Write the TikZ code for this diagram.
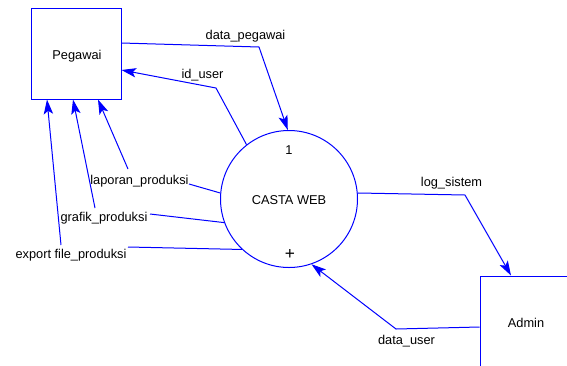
\documentclass[tikz,border=0pt]{standalone}
\usepackage{fontspec}
\setmainfont{Liberation Sans}
\usetikzlibrary{arrows.meta}
\begin{document}
\begin{tikzpicture}[x=0.75pt,y=-0.75pt,
  font=\fontsize{9.6pt}{11pt}\selectfont,
  flow/.style={draw=blue, line width=0.75pt},
  arr/.style={flow, -{Stealth[length=11pt,width=7pt,inset=2.5pt]}},
  entity/.style={draw=blue, line width=0.75pt, minimum width=67.5pt, minimum height=68.25pt, inner sep=0pt},
  process/.style={circle, draw=blue, line width=0.75pt, minimum size=102.75pt, inner sep=0pt},
  lbl/.style={inner sep=0pt, text=black}]
\clip (0,0) rectangle (567,365);
\fill[white] (0,0) rectangle (567,365);

% external entities and the process
\node[entity] (peg) at (76,53.5) {};
\node[lbl] (pegtxt) at (77,56) {Pegawai};
\node[entity] (adm) at (525,321.5) {};
\node[lbl] (admtxt) at (526,323) {Admin};
\node[process] (cw) at (289,199) {};
\node[lbl] (cwtxt) at (289,200) {CASTA WEB};
\node[lbl] (cwnum) at (289,150) {1};
\node[lbl, font=\fontsize{13pt}{14pt}\selectfont] (cwplus) at (290,254) {+};

% flow labels
\node[lbl] (ldp) at (245.5,36) {data\_pegawai};
\node[lbl] (lid) at (202.5,75) {id\_user};
\node[lbl] (llp) at (139.5,181) {laporan\_produksi};
\node[lbl] (lgp) at (104,218) {grafik\_produksi};
\node[lbl] (lex) at (71,255) {export file\_produksi};
\node[lbl] (lls) at (451.5,183) {log\_sistem};
\node[lbl] (ldu) at (406.5,341) {data\_user};

% data flows
\draw[arr] (peg.east |- 0,43) -- (259,47) -- (cw.91.7);
\draw[arr] (cw.128.7) -- (216,88) -- (peg.east |- 0,70);
\draw[flow] (cw.175) -- (189,184);
\draw[arr] (128,169) -- (peg.south -| 98,0);
\draw[flow] (cw.200) -- (150,214);
\draw[arr] (95,208) -- (peg.south -| 73,0);
\draw[flow] (cw.227.9) -- (128,247);
\draw[arr] (61,245) -- (peg.south -| 47,0);
\draw[arr] (cw.5.8) -- (465,195) -- (adm.north -| 511,0);
\draw[arr] (adm.west |- 0,327) -- (396,329) -- (cw.289);
\end{tikzpicture}
\end{document}
